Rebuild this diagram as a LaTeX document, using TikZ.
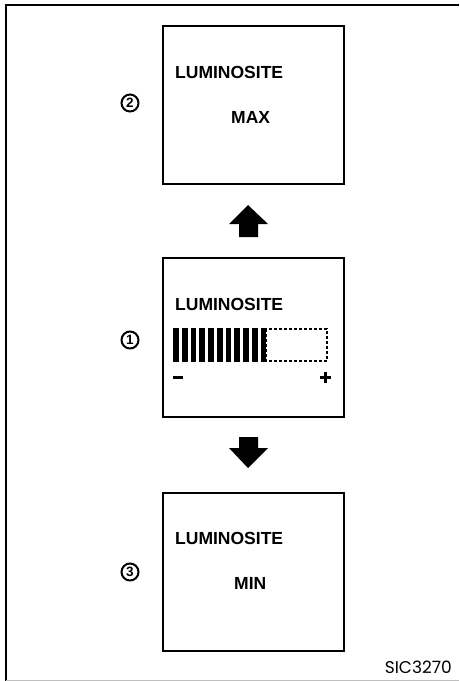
\documentclass[tikz,border=0pt]{standalone}
\usepackage{fontspec}
\setmainfont{Liberation Sans}
\newfontfamily\codefont{Poppins}
\begin{document}
\begin{tikzpicture}[x=1pt,y=-1pt,
  panel/.style={draw=black,line width=1.5pt,fill=white},
  lbl/.style={font=\fontsize{17.5}{17.5}\selectfont\bfseries,inner sep=0pt,anchor=west},
  num/.style={circle,draw=black,line width=2pt,minimum size=17pt,inner sep=0pt,font=\fontsize{13.5}{13.5}\selectfont\bfseries},
  bigarrow/.style={fill=black,draw=none}]
\useasboundingbox (0,0) rectangle (459,681);
% outer frame
\draw[line width=2pt] (6,681) -- (6,5) -- (459,5);
\draw[line width=1pt,black!25] (6,680) -- (459,680);
% panels
\node[panel,minimum width=181pt,minimum height=158pt,anchor=north west] (p2) at (162,25) {};
\node[panel,minimum width=181pt,minimum height=159pt,anchor=north west] (p1) at (162,257) {};
\node[panel,minimum width=181pt,minimum height=158pt,anchor=north west] (p3) at (162,492) {};
% texts
\node[lbl] (t2) at (175,72) {LUMINOSITE};
\node[lbl] (m2) at (231,117) {MAX};
\node[lbl] (t1) at (175,304) {LUMINOSITE};
\node[lbl] (t3) at (175,538) {LUMINOSITE};
\node[lbl] (m3) at (234,583) {MIN};
% circled numbers
\node[num] (n2) at (130,103) {2};
\node[num] (n1) at (130,340) {1};
\node[num] (n3) at (130,572) {3};
% bar
\foreach \i in {0,...,10} {
  \fill (173+\i*8.75,328) rectangle ++(5.8,34);
}
\draw[line width=1.2pt,dash pattern=on 3pt off 2pt] (266,329) rectangle (327,361);
\fill (173,375.5) rectangle (183,378.5);
\fill (319.5,375.5) rectangle (330.5,378.5);
\fill (323.5,371.5) rectangle (326.5,382.5);
% arrows
\coordinate (ua) at (248,205);
\fill[bigarrow] (ua) -- (268,224) -- (258,224) -- (258,237) -- (239,237) -- (239,224) -- (229,224) -- cycle;
\coordinate (da) at (248,468);
\fill[bigarrow] (da) -- (268,448) -- (258,448) -- (258,437) -- (239,437) -- (239,448) -- (229,448) -- cycle;
% code
\node[font=\codefont\fontsize{17}{17}\selectfont,anchor=east,inner sep=0pt] (code) at (452,667) {SIC3270};
\end{tikzpicture}
\end{document}
